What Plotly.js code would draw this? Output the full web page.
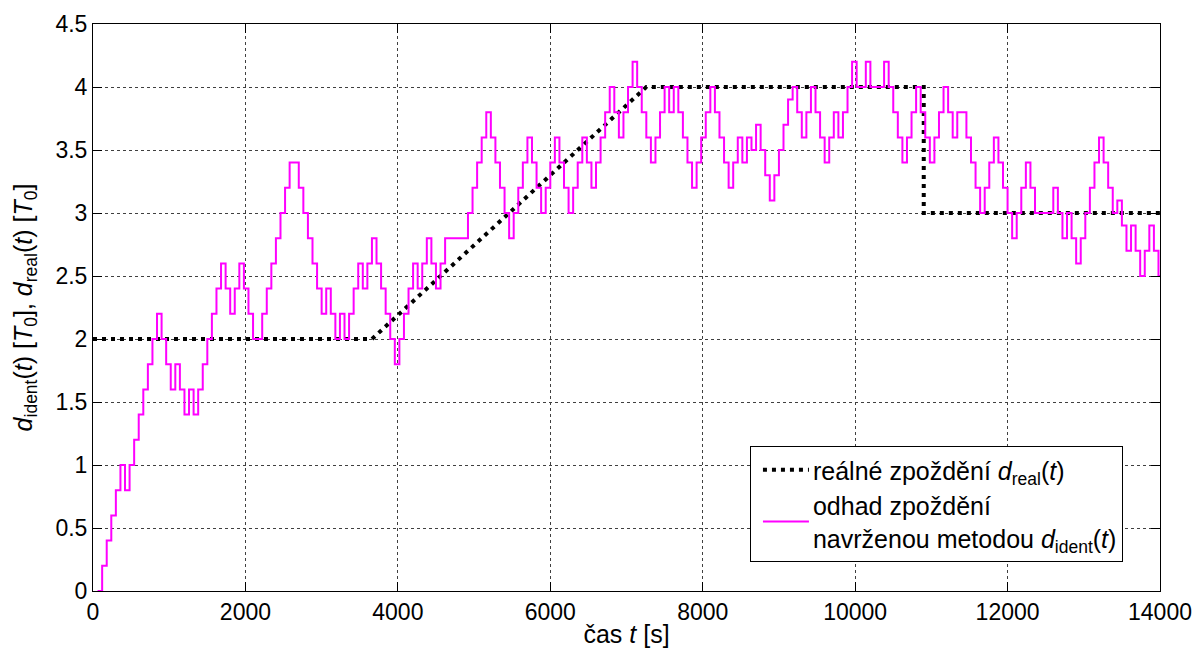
<!DOCTYPE html>
<html>
<head>
<meta charset="utf-8">
<script src="https://cdn.plot.ly/plotly-3.0.1.min.js"></script>
<style>
  html, body { margin: 0; padding: 0; background: #ffffff; }
  #chart { width: 1195px; height: 648px; }
</style>
</head>
<body>
<div id="chart"></div>
<script>
// Identified delay: times [s] at which the estimate changes, and the value held from that time on [T0]
const tIdent = [
  60, 120, 180, 240, 300, 360, 420, 480, 540, 600, 660, 720,
  780, 840, 900, 960, 1020, 1080, 1140, 1200, 1260, 1320, 1380, 1440,
  1500, 1560, 1620, 1680, 1740, 1800, 1860, 1920, 1980, 2040, 2100, 2220,
  2280, 2340, 2400, 2460, 2520, 2580, 2700, 2760, 2820, 2880, 2940, 3000,
  3060, 3120, 3180, 3240, 3300, 3360, 3420, 3480, 3540, 3600, 3660, 3720,
  3780, 3840, 3900, 3960, 4020, 4080, 4140, 4200, 4260, 4320, 4380, 4440,
  4500, 4560, 4620, 4920, 4980, 5040, 5100, 5160, 5220, 5280, 5340, 5400,
  5460, 5520, 5580, 5640, 5700, 5760, 5820, 5880, 5940, 6000, 6060, 6120,
  6180, 6240, 6300, 6360, 6420, 6480, 6540, 6600, 6660, 6720, 6780, 6840,
  6900, 6960, 7020, 7080, 7140, 7200, 7260, 7320, 7380, 7440, 7500, 7560,
  7620, 7680, 7740, 7800, 7860, 7920, 7980, 8040, 8100, 8160, 8220, 8280,
  8340, 8400, 8460, 8520, 8580, 8640, 8700, 8760, 8820, 8880, 8940, 9000,
  9060, 9120, 9180, 9240, 9300, 9360, 9420, 9480, 9540, 9600, 9660, 9720,
  9780, 9840, 9900, 9960, 10020, 10140, 10200, 10380, 10440, 10500, 10560, 10620,
  10680, 10740, 10800, 10860, 10920, 10980, 11040, 11100, 11160, 11220, 11280, 11340,
  11460, 11520, 11580, 11640, 11700, 11760, 11820, 11880, 11940, 12000, 12060, 12120,
  12180, 12240, 12300, 12360, 12600, 12660, 12720, 12780, 12840, 12900, 12960, 13020,
  13080, 13140, 13200, 13260, 13320, 13380, 13440, 13500, 13560, 13620, 13680, 13740,
  13800, 13860, 13920, 13980, 14000
];
const dIdent = [
  0.0, 0.2, 0.4, 0.6, 0.8, 1.0, 0.8, 1.0, 1.2, 1.4, 1.6, 1.8,
  2.0, 2.2, 2.0, 1.8, 1.6, 1.8, 1.6, 1.4, 1.6, 1.4, 1.6, 1.8,
  2.0, 2.2, 2.4, 2.6, 2.4, 2.2, 2.4, 2.6, 2.4, 2.2, 2.0, 2.2,
  2.4, 2.6, 2.8, 3.0, 3.2, 3.4, 3.2, 3.0, 2.8, 2.6, 2.4, 2.2,
  2.4, 2.2, 2.0, 2.2, 2.0, 2.2, 2.4, 2.6, 2.4, 2.6, 2.8, 2.6,
  2.4, 2.2, 2.0, 1.8, 2.0, 2.2, 2.4, 2.6, 2.4, 2.6, 2.8, 2.6,
  2.4, 2.6, 2.8, 3.0, 3.2, 3.4, 3.6, 3.8, 3.6, 3.4, 3.2, 3.0,
  2.8, 3.0, 3.2, 3.4, 3.6, 3.4, 3.2, 3.0, 3.2, 3.4, 3.6, 3.4,
  3.2, 3.0, 3.2, 3.4, 3.6, 3.4, 3.2, 3.4, 3.6, 3.8, 4.0, 3.8,
  3.6, 3.8, 4.0, 4.2, 4.0, 3.8, 3.6, 3.4, 3.6, 3.8, 4.0, 3.8,
  4.0, 3.8, 3.6, 3.4, 3.2, 3.4, 3.6, 3.8, 4.0, 3.8, 3.6, 3.4,
  3.2, 3.4, 3.6, 3.4, 3.6, 3.5, 3.7, 3.5, 3.3, 3.1, 3.3, 3.5,
  3.7, 3.9, 4.0, 3.8, 3.6, 3.8, 4.0, 3.8, 3.6, 3.4, 3.6, 3.8,
  3.6, 3.8, 4.0, 4.2, 4.0, 4.2, 4.0, 4.2, 4.0, 3.8, 3.6, 3.4,
  3.6, 3.8, 4.0, 3.8, 3.6, 3.4, 3.6, 3.8, 4.0, 3.8, 3.6, 3.8,
  3.6, 3.4, 3.2, 3.0, 3.2, 3.4, 3.6, 3.4, 3.2, 3.0, 2.8, 3.0,
  3.2, 3.4, 3.2, 3.0, 3.2, 3.0, 2.8, 3.0, 2.8, 2.6, 2.8, 3.0,
  3.2, 3.4, 3.6, 3.4, 3.2, 3.0, 3.1, 2.9, 2.7, 2.9, 2.7, 2.5,
  2.7, 2.9, 2.7, 2.5, 2.5
];

// Real delay: breakpoints of the piecewise-linear profile
const tReal = [0, 3660, 7260, 10900, 10900, 14000];
const dReal = [2, 2, 4, 4, 3, 3];

// Axis ticks
const xTicks = [0, 2000, 4000, 6000, 8000, 10000, 12000, 14000];
const yTicks = [0, 0.5, 1, 1.5, 2, 2.5, 3, 3.5, 4, 4.5];

const FONT = 'Liberation Sans, Arial, Helvetica, sans-serif';

const traces = [
  {
    x: tReal, y: dReal, type: 'scatter', mode: 'lines',
    name: 'reálné zpoždění <i>d</i><sub>real</sub>(<i>t</i>)',
    line: { color: '#000000', width: 4, dash: '4px,5px' },
    hoverinfo: 'skip'
  },
  {
    x: tIdent, y: dIdent, type: 'scatter', mode: 'lines',
    name: 'odhad zpoždění<br>navrženou metodou <i>d</i><sub>ident</sub>(<i>t</i>)',
    line: { color: '#ff00ff', width: 2, shape: 'hv' },
    hoverinfo: 'skip'
  }
];

const axisCommon = {
  showline: true, linecolor: '#000000', linewidth: 1, mirror: 'allticks',
  ticks: 'inside', ticklen: 9, tickcolor: '#000000', tickwidth: 1,
  showgrid: true, gridcolor: '#404040', gridwidth: 1, griddash: '3px,3px',
  zeroline: false,
  tickfont: { family: FONT, size: 23, color: '#000000' }
};

const layout = {
  width: 1195, height: 648,
  margin: { l: 93, r: 35, t: 24, b: 57 },
  paper_bgcolor: '#ffffff', plot_bgcolor: '#ffffff',
  font: { family: FONT, color: '#000000' },
  showlegend: true,
  legend: {
    x: 0.6157, y: 0.2557, xanchor: 'left', yanchor: 'top',
    bgcolor: '#ffffff', bordercolor: '#000000', borderwidth: 1,
    font: { family: FONT, size: 25, color: '#000000' },
    itemwidth: 52, tracegroupgap: 0
  },
  xaxis: Object.assign({}, axisCommon, {
    range: [0, 14000], tickvals: xTicks, tickformat: 'd',
    title: { text: 'čas <i>t</i> [s]', font: { family: FONT, size: 25 }, standoff: 2 }
  }),
  yaxis: Object.assign({}, axisCommon, {
    range: [0, 4.5], tickvals: yTicks,
    title: {
      text: '<i>d</i><sub>ident</sub>(<i>t</i>) [<i>T</i><sub>0</sub>], <i>d</i><sub>real</sub>(<i>t</i>) [<i>T</i><sub>0</sub>]',
      font: { family: FONT, size: 25 }, standoff: 15
    }
  })
};

// Longer line samples in the legend
function stretchLegendLines(gd) {
  gd.querySelectorAll('.legend .legendlines path').forEach(function (p) {
    p.setAttribute('d', 'M12,0h46');
  });
}

Plotly.newPlot('chart', traces, layout, { staticPlot: true, displayModeBar: false })
  .then(stretchLegendLines);
</script>
</body>
</html>
